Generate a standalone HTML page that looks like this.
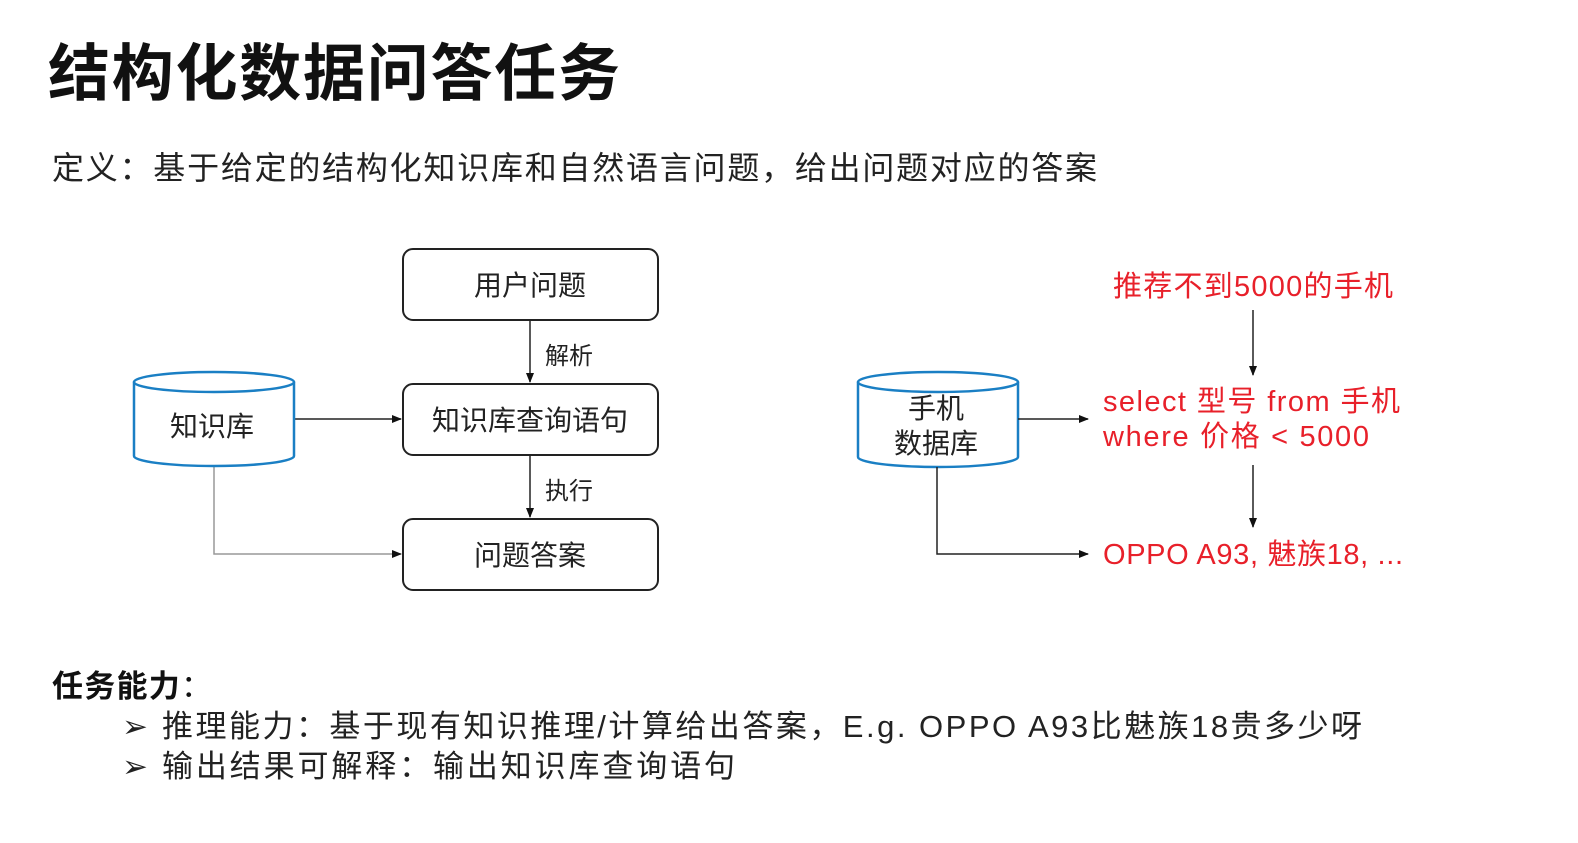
<!DOCTYPE html>
<html><head><meta charset="utf-8"><style>
html,body{margin:0;padding:0;background:#fff;}
body{width:1578px;height:838px;overflow:hidden;font-family:"Liberation Sans","Noto Sans CJK SC",sans-serif;}
svg text{font-family:"Liberation Sans","Noto Sans CJK SC",sans-serif;}
</style></head><body>
<svg width="1578" height="838" xmlns="http://www.w3.org/2000/svg">
<defs>
<marker id="a" markerWidth="10" markerHeight="10" refX="9" refY="5" orient="auto" markerUnits="userSpaceOnUse"><path d="M0,1 L10,5 L0,9 z" fill="#111"/></marker>
</defs>
<text x="48" y="95" font-size="62" font-weight="bold" fill="#111" textLength="572">结构化数据问答任务</text>
<text x="52" y="179" font-size="32" fill="#222" textLength="1045">定义：基于给定的结构化知识库和自然语言问题，给出问题对应的答案</text>

<g fill="#fff" stroke="#222" stroke-width="2">
<rect x="403" y="249" width="255" height="71" rx="10"/>
<rect x="403" y="384" width="255" height="71" rx="10"/>
<rect x="403" y="519" width="255" height="71" rx="10"/>
</g>
<g font-size="28" fill="#222" text-anchor="middle">
<text x="530" y="295">用户问题</text>
<text x="530" y="430">知识库查询语句</text>
<text x="530" y="565">问题答案</text>
</g>
<g stroke="#222" stroke-width="1.5" fill="none">
<line x1="530" y1="320" x2="530" y2="382" marker-end="url(#a)"/>
<line x1="530" y1="455" x2="530" y2="517" marker-end="url(#a)"/>
<line x1="294" y1="419" x2="401" y2="419" marker-end="url(#a)"/>
<polyline points="214,467 214,554 401,554" stroke="#999" marker-end="url(#a)"/>
</g>
<g font-size="24" fill="#222">
<text x="545" y="364">解析</text>
<text x="545" y="499">执行</text>
</g>
<g stroke="#1a7fc4" stroke-width="2.5" fill="#fff">
<path d="M134,382 L134,456 A80,10 0 0 0 294,456 L294,382"/>
<ellipse cx="214" cy="382" rx="80" ry="10"/>
</g>
<text x="212" y="436" font-size="28" fill="#222" text-anchor="middle">知识库</text>

<g stroke="#1a7fc4" stroke-width="2.5" fill="#fff">
<path d="M858,382 L858,457 A80,10 0 0 0 1018,457 L1018,382"/>
<ellipse cx="938" cy="382" rx="80" ry="10"/>
</g>
<g font-size="28" fill="#222" text-anchor="middle">
<text x="936" y="418">手机</text>
<text x="936" y="453">数据库</text>
</g>
<g stroke="#222" stroke-width="1.5" fill="none">
<line x1="1018" y1="419" x2="1088" y2="419" marker-end="url(#a)"/>
<polyline points="937,467 937,554 1088,554" marker-end="url(#a)"/>
<line x1="1253" y1="310" x2="1253" y2="375" marker-end="url(#a)"/>
<line x1="1253" y1="465" x2="1253" y2="527" marker-end="url(#a)"/>
</g>
<g font-size="29" fill="#e8202a">
<text x="1113" y="296" textLength="280">推荐不到5000的手机</text>
<text x="1103" y="411" textLength="297">select 型号 from 手机</text>
<text x="1103" y="446" textLength="266">where 价格 &lt; 5000</text>
<text x="1103" y="564" textLength="300">OPPO A93, 魅族18, ...</text>
</g>

<text x="52" y="697" font-size="31" fill="#111" textLength="160"><tspan font-weight="bold">任务能力</tspan>：</text>
<g font-size="31" fill="#222">
<text x="122" y="737">➢</text>
<text x="162" y="737" textLength="1200">推理能力：基于现有知识推理/计算给出答案，E.g. OPPO A93比魅族18贵多少呀</text>
<text x="122" y="777">➢</text>
<text x="162" y="777" textLength="573">输出结果可解释：输出知识库查询语句</text>
</g>
</svg>
</body></html>
